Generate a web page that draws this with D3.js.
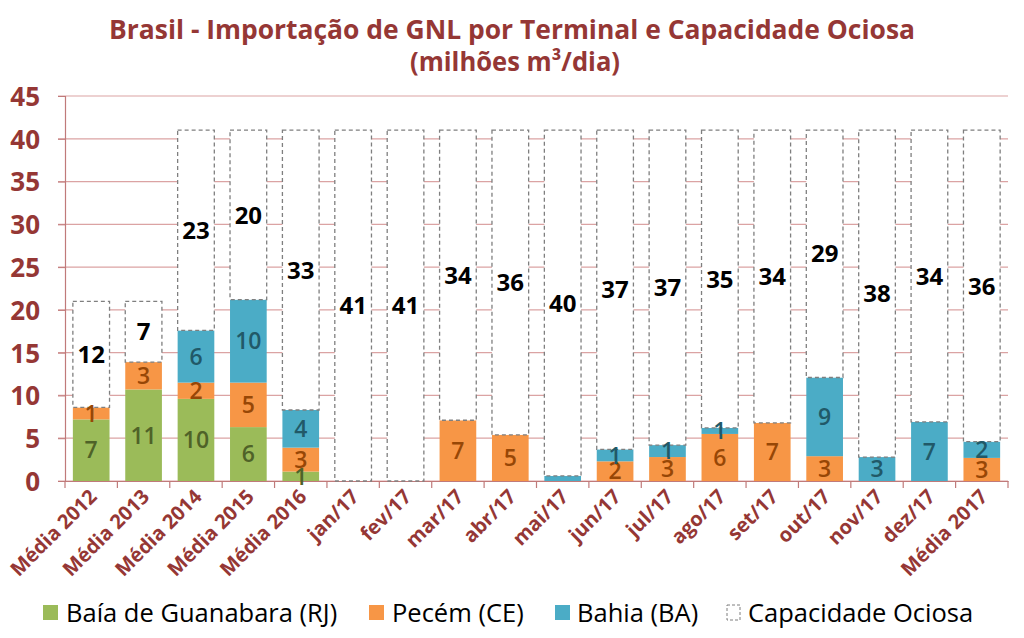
<!DOCTYPE html>
<html><head><meta charset="utf-8">
<script src="https://cdn.jsdelivr.net/npm/d3@7"></script>
<style>body{margin:0;background:#fff}svg{display:block}</style>
</head><body>
<svg id="c" width="1024" height="638"></svg>
<script>
const categories = ["Média 2012","Média 2013","Média 2014","Média 2015","Média 2016","jan/17","fev/17","mar/17","abr/17","mai/17","jun/17","jul/17","ago/17","set/17","out/17","nov/17","dez/17","Média 2017"];
const guanabara = [7.2,10.7,9.6,6.3,1.1,0,0,0,0,0,0,0,0,0,0,0,0,0];
const pecem     = [1.4,3.2,1.9,5.2,2.8,0,0,7.1,5.4,0,2.3,2.8,5.5,6.8,2.9,0,0,2.7];
const bahia     = [0,0,6.1,9.7,4.4,0,0,0,0,0.6,1.4,1.4,0.7,0,9.2,2.8,6.9,1.9];
const ociosa    = [12.4,7.1,23.4,19.8,32.7,41,41,33.9,35.6,40.4,37.3,36.8,34.8,34.2,28.9,38.2,34.1,36.4];
const yTicks = [0,5,10,15,20,25,30,35,40,45];
const seriesNames = ["Baía de Guanabara (RJ)","Pecém (CE)","Bahia (BA)","Capacidade Ociosa"];
const colors = ["#9bbb59","#f79646","#4bacc6","#ffffff"];
const labelColors = ["#4f6228","#974706","#215968","#000000"];

const svg = d3.select("#c");
const red = "#953735";
const FONT = "'Open Sans', sans-serif";
const m = {l:65, r:1008, t:96, b:481};
const x = d3.scaleBand().domain(categories).range([m.l, m.r]).paddingInner(0.3).paddingOuter(0.15);
const y = d3.scaleLinear().domain([0,45]).range([m.b, m.t]);

// title
svg.append("text").attr("x",512).attr("y",39).attr("text-anchor","middle")
  .attr("font-family",FONT).attr("font-weight",700).attr("font-size",27).attr("fill",red)
  .attr("textLength",806).attr("lengthAdjust","spacingAndGlyphs")
  .text("Brasil - Importação de GNL por Terminal e Capacidade Ociosa");
svg.append("text").attr("x",515).attr("y",71).attr("text-anchor","middle")
  .attr("font-family",FONT).attr("font-weight",700).attr("font-size",27).attr("fill",red)
  .attr("textLength",210).attr("lengthAdjust","spacingAndGlyphs")
  .text("(milhões m³/dia)");

// gridlines
svg.append("g").selectAll("line").data(yTicks).join("line")
  .attr("x1",58).attr("x2",m.r).attr("y1",d=>y(d)).attr("y2",d=>y(d))
  .attr("stroke","#dba3a3").attr("stroke-width",1.2);
// y axis
const yAxis = svg.append("g").attr("transform",`translate(${m.l},0)`)
  .call(d3.axisLeft(y).tickValues(yTicks).tickSize(7).tickPadding(18));
yAxis.select(".domain").attr("stroke","#c07a7a").attr("stroke-width",1.2);
yAxis.selectAll(".tick line").attr("stroke","#c07a7a");
yAxis.selectAll("text").attr("font-family",FONT).attr("font-weight",700).attr("font-size",26).attr("fill",red).attr("dy","0.36em");

// x axis
const xAxis = svg.append("g").attr("transform",`translate(0,${m.b})`)
  .call(d3.axisBottom(x).tickSize(0).tickFormat(""));
xAxis.select(".domain").attr("stroke","#c07a7a").attr("stroke-width",1.2);
const bounds = d3.range(categories.length+1).map(i => m.l + i*(m.r-m.l)/categories.length);
svg.append("g").selectAll("line").data(bounds).join("line")
  .attr("x1",d=>d).attr("x2",d=>d).attr("y1",m.b).attr("y2",m.b+7)
  .attr("stroke","#c07a7a").attr("stroke-width",1.2);
svg.append("g").selectAll("text").data(categories).join("text")
  .attr("transform",d=>`translate(${x(d)+x.bandwidth()/2+7},${m.b+17}) rotate(-45)`)
  .attr("text-anchor","end").attr("font-family",FONT).attr("font-weight",700)
  .attr("font-size",20).attr("fill",red).text(d=>d);

// stacked data
const rows = categories.map((c,i)=>({cat:c, g:guanabara[i], p:pecem[i], b:bahia[i], o:ociosa[i]}));
const keys = ["g","p","b","o"];
const stack = d3.stack().keys(keys)(rows);

const gBars = svg.append("g");
stack.forEach((layer,li)=>{
  const gl = gBars.append("g");
  gl.selectAll("rect").data(layer).join("rect")
    .attr("x",d=>x(d.data.cat)).attr("width",x.bandwidth())
    .attr("y",d=>y(d[1])).attr("height",d=>Math.max(0,y(d[0])-y(d[1])))
    .attr("fill",colors[li])
    .attr("stroke",li===3?"#7f7f7f":"none").attr("stroke-width",li===3?1.3:0)
    .attr("stroke-dasharray",li===3?"4,3":null);
});
stack.forEach((layer,li)=>{
  svg.append("g").selectAll("text").data(layer.filter(d=>d[1]-d[0]>=0.65)).join("text")
    .attr("x",d=>x(d.data.cat)+x.bandwidth()/2)
    .attr("y",d=>y((d[0]+d[1])/2)).attr("dy","0.36em")
    .attr("text-anchor","middle").attr("font-family",FONT)
    .attr("font-weight",li===3?700:600).attr("font-size",li===3?24:23)
    .attr("fill",labelColors[li])
    .text(d=>Math.round(d[1]-d[0]));
});

// legend
const legend = [
  {name:seriesNames[0], sx:43, tx:66},
  {name:seriesNames[1], sx:369, tx:392},
  {name:seriesNames[2], sx:555, tx:577},
  {name:seriesNames[3], sx:727, tx:748}
];
const lg = svg.append("g");
legend.forEach((d,i)=>{
  lg.append("rect").attr("x",d.sx).attr("y",605).attr("width",i===3?13:15).attr("height",15)
    .attr("fill",colors[i]).attr("stroke",i===3?"#7f7f7f":"none")
    .attr("stroke-dasharray",i===3?"3,2":null).attr("stroke-width",i===3?1:0);
  lg.append("text").attr("x",d.tx).attr("y",613).attr("dy","0.36em")
    .attr("font-family",FONT).attr("font-size",25.5).attr("fill","#000").text(d.name);
});
</script>
</body></html>
